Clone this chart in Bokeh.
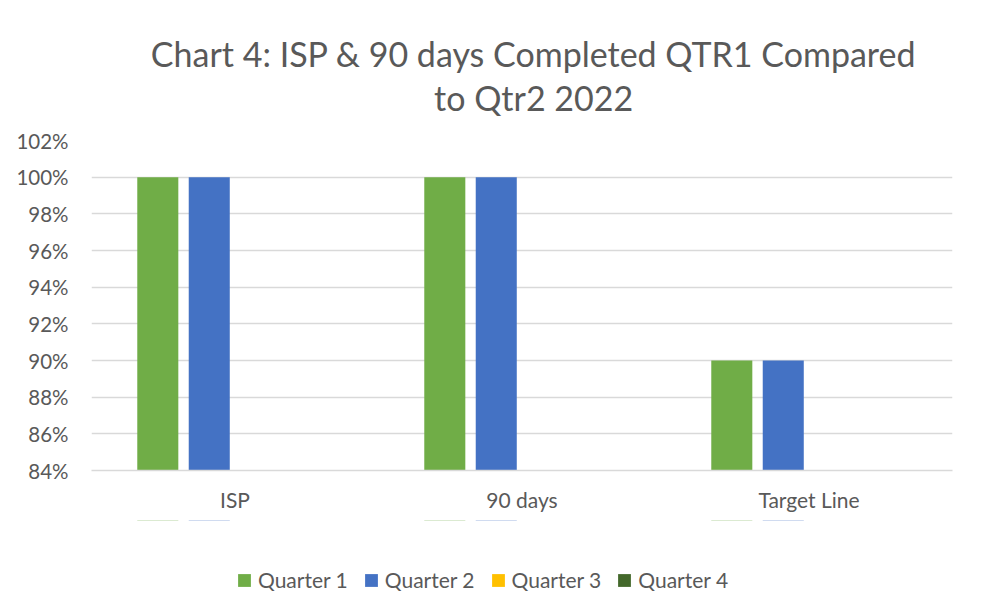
from bokeh.plotting import figure
from bokeh.layouts import column
from bokeh.models import (ColumnDataSource, FactorRange, Range1d, FixedTicker,
                          NumeralTickFormatter, Label, Legend, LegendItem)
from bokeh.transform import dodge
from bokeh.embed import file_html
from bokeh.resources import INLINE

nan = float("nan")

# ---- data ----
categories = ["ISP", "90 days", "Target Line"]
series_names = ["Quarter 1", "Quarter 2", "Quarter 3", "Quarter 4"]
quarter1 = [1.00, 1.00, 0.90]
quarter2 = [1.00, 1.00, 0.90]
quarter3 = [nan, nan, nan]
quarter4 = [nan, nan, nan]
y_ticks = [0.84, 0.86, 0.88, 0.90, 0.92, 0.94, 0.96, 0.98, 1.00, 1.02]
title_lines = ["Chart 4: ISP & 90 days Completed QTR1 Compared", "to Qtr2 2022"]

colors = ["#70AD47", "#4472C4", "#FFC000", "#43682B"]
TEXT = "#595959"
FONT = "Lato"
W = 967
TITLE_H, LEG_H = 128, 96


def bare(height, x_range, y_range):
    f = figure(width=W, height=height, output_backend="svg", toolbar_location=None,
               x_range=x_range, y_range=y_range,
               x_axis_type=None, y_axis_type=None, min_border=0)
    f.outline_line_color = None
    f.xgrid.grid_line_color = None
    f.ygrid.grid_line_color = None
    return f


# ---- title block ----
t = bare(TITLE_H, Range1d(0, W), Range1d(0, TITLE_H))
for txt, ypos in zip(title_lines, [75, 31]):
    t.add_layout(Label(x=496.6, y=ypos, text=txt, text_align="center",
                       text_baseline="alphabetic", text_font=FONT,
                       text_font_size="34px", text_color=TEXT))

# ---- main chart ----
source = ColumnDataSource(dict(cat=categories, q1=quarter1, q2=quarter2,
                               q3=quarter3, q4=quarter4))
p = figure(frame_width=861, frame_height=330, output_backend="svg", toolbar_location=None,
           x_range=FactorRange(*categories, range_padding=0),
           y_range=Range1d(0.84, 1.02), title=None,
           min_border_left=91, min_border_right=W - 952,
           min_border_top=12, min_border_bottom=50)
p.outline_line_color = None

offsets = [-0.269, -0.0897, 0.0897, 0.269]
keys = ["q1", "q2", "q3", "q4"]
for key, off, col in zip(keys, offsets, colors):
    p.vbar(x=dodge("cat", off, range=p.x_range), top=key, bottom=0,
           width=0.143, source=source, fill_color=col, line_color=None)

p.yaxis.ticker = FixedTicker(ticks=y_ticks)
p.yaxis.formatter = NumeralTickFormatter(format="0%")
p.yaxis.axis_line_color = None
p.yaxis.major_tick_line_color = None
p.yaxis.minor_tick_line_color = None
p.yaxis.major_label_text_font = FONT
p.yaxis.major_label_text_font_size = "20.5px"
p.yaxis.major_label_text_color = TEXT
p.yaxis.major_label_standoff = 17

p.xaxis.axis_line_color = "#D9D9D9"
p.xaxis.axis_line_width = 1.3
p.xaxis.major_tick_line_color = None
p.xaxis.minor_tick_line_color = None
p.xaxis.major_tick_out = 0
p.xaxis.major_tick_in = 0
p.xaxis.major_label_text_font = FONT
p.xaxis.major_label_text_font_size = "21px"
p.xaxis.major_label_text_color = TEXT
p.xaxis.major_label_standoff = 16

p.xgrid.grid_line_color = None
p.ygrid.grid_line_color = "#D9D9D9"
p.ygrid.grid_line_width = 1.3

# ---- legend block (zero-height proxy bars, only used for the legend swatches) ----
lg = bare(LEG_H, FactorRange(*categories, range_padding=0), Range1d(-2, -1))
proxies = []
for key, off, col in zip(keys, offsets, colors):
    r = lg.vbar(x=dodge("cat", off, range=lg.x_range), top=key, bottom=key,
                width=0.143, source=source, fill_color=col, line_color=None)
    proxies.append(r)
legend = Legend(items=[LegendItem(label=n, renderers=[r]) for n, r in zip(series_names, proxies)],
                orientation="horizontal", location=(145, 24),
                glyph_width=16, glyph_height=16, label_text_font=FONT,
                label_text_font_size="21px", label_text_color=TEXT,
                label_standoff=6, spacing=15, padding=0, margin=0,
                border_line_color=None, background_fill_alpha=0,
                label_height=20)
lg.add_layout(legend, "center")

layout = column(t, p, lg, spacing=0)
open("out.html", "w").write(file_html(layout, INLINE))
